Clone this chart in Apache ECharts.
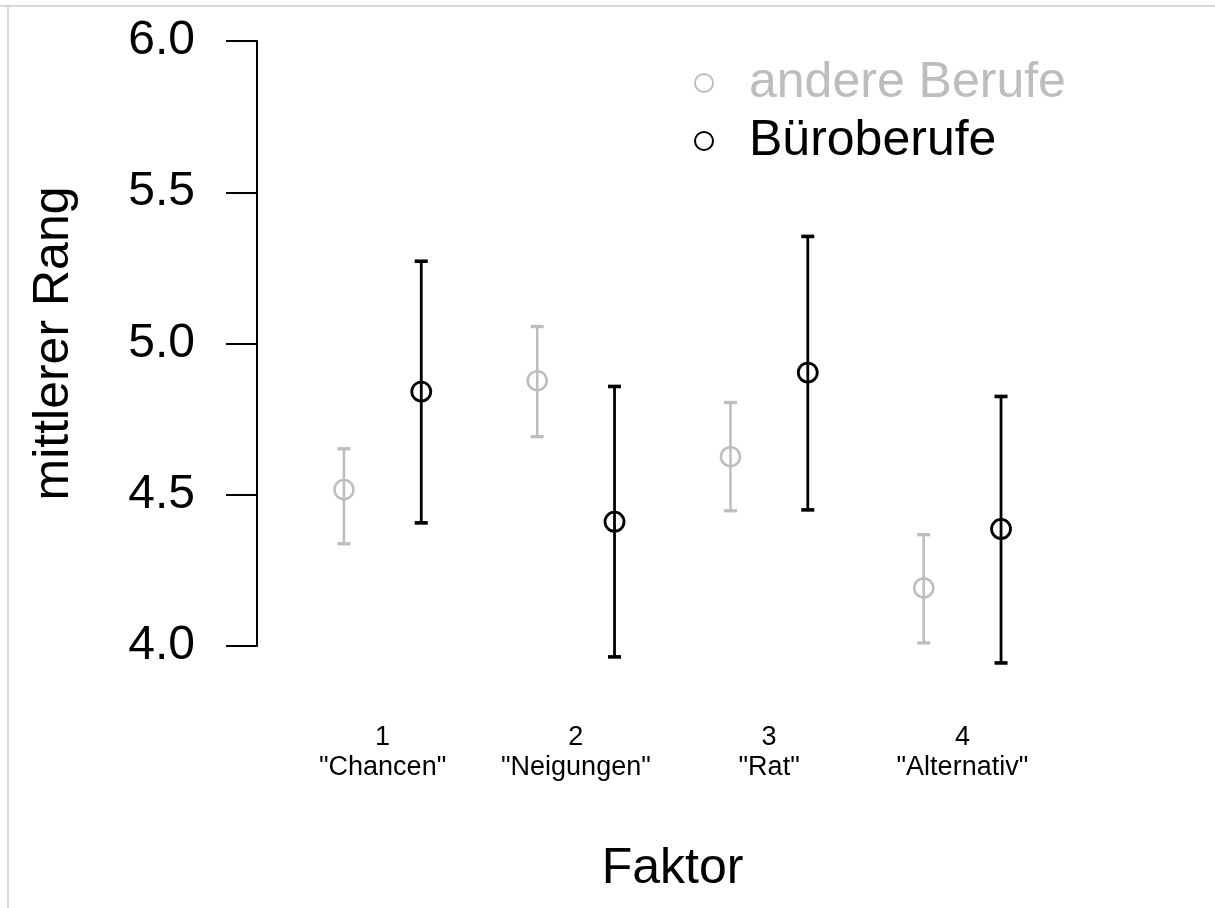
<!DOCTYPE html>
<html>
<head>
<meta charset="utf-8">
<script src="https://cdn.jsdelivr.net/npm/echarts@6/dist/echarts.min.js"></script>
<style>
html,body{margin:0;padding:0;background:#fff;}
#chart{width:1215px;height:908px;}
</style>
</head>
<body>
<div id="chart"></div>
<script>
// ---- data ----
var factorPositions = [1, 2, 3, 4];
var factorLabels = ['1\n"Chancen"', '2\n"Neigungen"', '3\n"Rat"', '4\n"Alternativ"'];
var seriesNames = ['andere Berufe', 'Büroberufe'];
var seriesOffsets = [-0.2, 0.2];
var andereMean  = [4.517, 4.877, 4.626, 4.192];
var andereLow   = [4.338, 4.692, 4.447, 4.010];
var andereHigh  = [4.652, 5.056, 4.805, 4.368];
var bueroMean   = [4.841, 4.411, 4.904, 4.387];
var bueroLow    = [4.407, 3.964, 4.450, 3.944];
var bueroHigh   = [5.272, 4.858, 5.354, 4.825];
var yTicks = [4.0, 4.5, 5.0, 5.5, 6.0];

var colors = ['#bdbdbd', '#000000'];
var means = [andereMean, bueroMean];
var lows = [andereLow, bueroLow];
var highs = [andereHigh, bueroHigh];

var chart = echarts.init(document.getElementById('chart'));
var FONT = '"Liberation Sans", Arial, sans-serif';

var series = [];
for (var s = 0; s < 2; s++) {
  var pts = [], bars = [];
  for (var i = 0; i < factorPositions.length; i++) {
    var x = factorPositions[i] + seriesOffsets[s];
    pts.push([x, means[s][i]]);
    bars.push([x, lows[s][i], highs[s][i]]);
  }
  (function (col, lw) {
    series.push({
      name: seriesNames[s],
      type: 'scatter',
      z: 3,
      silent: true,
      symbol: 'circle',
      symbolSize: 19,
      itemStyle: {color: 'rgba(0,0,0,0)', borderColor: col, borderWidth: lw, opacity: 1},
      data: pts
    });
    series.push({
      name: seriesNames[s],
      type: 'custom',
      z: 2,
      silent: true,
      itemStyle: {color: col},
      data: bars,
      renderItem: function (params, api) {
        var x = api.value(0);
        var lo = api.coord([x, api.value(1)]);
        var hi = api.coord([x, api.value(2)]);
        var cw = 6.5;
        var st = {stroke: col, lineWidth: lw};
        return {
          type: 'group',
          children: [
            {type: 'line', shape: {x1: lo[0], y1: lo[1], x2: hi[0], y2: hi[1]}, style: st},
            {type: 'line', shape: {x1: lo[0] - cw, y1: lo[1], x2: lo[0] + cw, y2: lo[1]}, style: {stroke: col, lineWidth: lw + 0.8}},
            {type: 'line', shape: {x1: hi[0] - cw, y1: hi[1], x2: hi[0] + cw, y2: hi[1]}, style: {stroke: col, lineWidth: lw + 0.8}}
          ]
        };
      }
    });
  })(colors[s], s === 0 ? 2.5 : 2.8);
}

var option = {
  backgroundColor: '#ffffff',
  animation: false,
  textStyle: {fontFamily: FONT},
  graphic: [
    {type: 'line', shape: {x1: 0, y1: 6, x2: 1215, y2: 6}, style: {stroke: '#d9d9d9', lineWidth: 2}},
    {type: 'line', shape: {x1: 8, y1: 6, x2: 8, y2: 908}, style: {stroke: '#d9d9d9', lineWidth: 2}}
  ],
  legend: {
    orient: 'vertical',
    left: 689,
    top: 53,
    itemGap: 8,
    itemWidth: 80,
    itemHeight: 18,
    selectedMode: false,
    data: [
      {name: seriesNames[0], icon: 'circle', itemStyle: {color: 'rgba(0,0,0,0)', borderColor: colors[0], borderWidth: 2}, textStyle: {color: colors[0]}},
      {name: seriesNames[1], icon: 'circle', itemStyle: {color: 'rgba(0,0,0,0)', borderColor: colors[1], borderWidth: 2}, textStyle: {color: colors[1]}}
    ],
    textStyle: {fontSize: 50, fontFamily: FONT}
  },
  grid: {left: 257, top: 41, width: 831, height: 605, containLabel: false},
  xAxis: {
    type: 'value',
    min: 0.35,
    max: 4.65,
    name: 'Faktor',
    nameLocation: 'middle',
    nameGap: 198,
    nameTextStyle: {fontSize: 50, color: '#000', fontFamily: FONT},
    axisLine: {show: false},
    axisTick: {show: false},
    splitLine: {show: false},
    axisLabel: {
      customValues: factorPositions,
      margin: 77,
      fontSize: 27,
      lineHeight: 30,
      color: '#000',
      fontFamily: FONT,
      formatter: function (v) {
        var idx = factorPositions.indexOf(Math.round(v));
        return idx >= 0 ? factorLabels[idx] : '';
      }
    }
  },
  yAxis: {
    type: 'value',
    min: 4,
    max: 6,
    interval: 0.5,
    name: 'mittlerer Rang',
    nameLocation: 'middle',
    nameGap: 178,
    nameTextStyle: {fontSize: 50, color: '#000', fontFamily: FONT},
    axisLine: {show: true, lineStyle: {color: '#000', width: 2}},
    axisTick: {show: true, length: 31, lineStyle: {color: '#000', width: 2}},
    splitLine: {show: false},
    axisLabel: {
      margin: 62,
      fontSize: 48,
      color: '#000',
      fontFamily: FONT,
      formatter: function (v) { return v.toFixed(1); }
    }
  },
  series: series
};
chart.setOption(option);
</script>
</body>
</html>
